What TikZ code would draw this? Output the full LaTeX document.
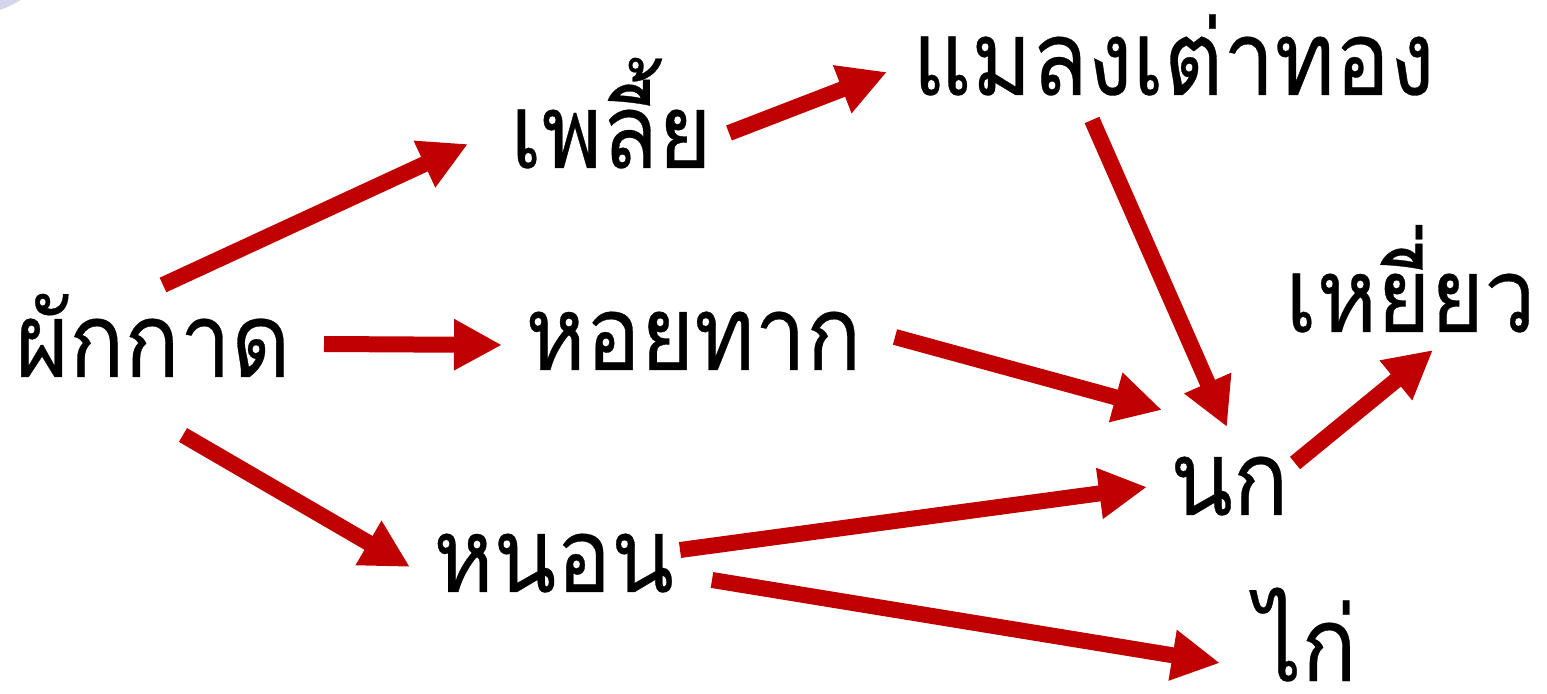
\documentclass[tikz,border=0pt]{standalone}
\usepackage{fontspec}
\newfontfamily\thaifont[Script=Thai,FakeStretch=0.88,FakeBold=0.3]{Loma}
\usetikzlibrary{arrows.meta}
\definecolor{arrowred}{RGB}{192,0,0}
\definecolor{blob}{RGB}{212,212,234}
\tikzset{
  word/.style={anchor=base west, inner sep=0pt, font=\thaifont\fontsize{52}{60}\selectfont},
  link/.style={draw=arrowred, line width=8pt, -{Triangle[length=24pt,width=24pt]}}
}
\begin{document}
\begin{tikzpicture}[x=0.5pt,y=-0.5pt]
\useasboundingbox (0,0) rectangle (1547,694);
\begin{scope}
\clip (0,0) rectangle (1547,694);
\fill[blob] (-40,-100) circle (117);
\end{scope}
\node[word] (phak) at (15,377) {ผักกาด};
\node[word] (plia) at (510,168) {เพลี้ย};
\node[word] (malaeng) at (912,95) {แมลงเต่าทอง};
\node[word] (hoi) at (525,370) {หอยทาก};
\node[word] (hyiao) at (1285,332) {เหยี่ยว};
\node[word] (nok) at (1170,515) {นก};
\node[word] (non) at (433,592) {หนอน};
\node[word] (kai) at (1255,681) {ไก่};
% arrow end points
\coordinate (a1s) at (163,285); \coordinate (a1e) at (468,144);
\coordinate (a2s) at (729,133); \coordinate (a2e) at (887,72);
\coordinate (a3s) at (324,344); \coordinate (a3e) at (502,345);
\coordinate (a4s) at (183,435); \coordinate (a4e) at (410,567);
\coordinate (a5s) at (680,550); \coordinate (a5e) at (1147,487);
\coordinate (a6s) at (712,580); \coordinate (a6e) at (1220,663);
\coordinate (a7s) at (895,337); \coordinate (a7e) at (1162,410);
\coordinate (a8s) at (1092,120); \coordinate (a8e) at (1227,427);
\coordinate (a9s) at (1295,463); \coordinate (a9e) at (1433,350);
\draw[link] (a1s) -- (a1e);
\draw[link] (a2s) -- (a2e);
\draw[link] (a3s) -- (a3e);
\draw[link] (a4s) -- (a4e);
\draw[link] (a5s) -- (a5e);
\draw[link] (a6s) -- (a6e);
\draw[link] (a7s) -- (a7e);
\draw[link] (a8s) -- (a8e);
\draw[link] (a9s) -- (a9e);
\end{tikzpicture}
\end{document}
